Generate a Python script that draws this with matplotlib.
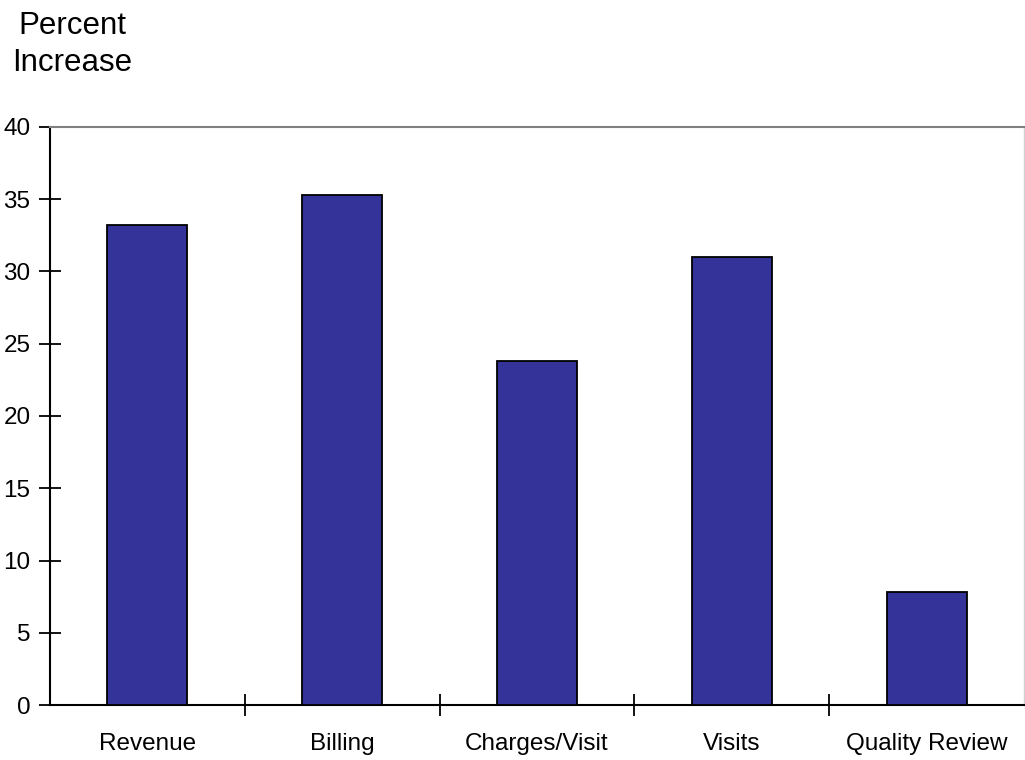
import matplotlib
matplotlib.use("Agg")
import matplotlib.pyplot as plt
import numpy as np

categories = ["Revenue", "Billing", "Charges/Visit", "Visits", "Quality Review"]
values = [33.2, 35.3, 23.8, 31.0, 7.8]
yticks = [0, 5, 10, 15, 20, 25, 30, 35, 40]

plt.rcParams['font.family'] = ['Liberation Sans', 'DejaVu Sans']

fig = plt.figure(figsize=(10.25, 7.6), dpi=100)
ax = fig.add_axes([50/1025, 55/760, 974/1025, 578/760])

x = np.arange(len(categories))
ax.bar(x, values, width=0.41, color="#333399", edgecolor="black", linewidth=1.3, zorder=3)

ax.set_xlim(-0.5, len(categories) - 0.5)
ax.set_ylim(0, 40)
ax.set_yticks(yticks)
ax.set_yticklabels([str(v) for v in yticks], fontsize=17.5)
ax.tick_params(axis='y', direction='inout', length=16, width=1.3, pad=6)

ax.set_xticks(x)
ax.set_xticklabels(categories, fontsize=17.5)
ax.tick_params(axis='x', which='major', length=0, pad=20)
ax.set_xticks(np.arange(0.5, len(categories) - 1, 1.0), minor=True)
ax.tick_params(axis='x', which='minor', direction='inout', length=16, width=1.3)

ax.spines['left'].set_linewidth(1.5)
ax.spines['bottom'].set_linewidth(1.5)
ax.spines['top'].set_color('#808080')
ax.spines['top'].set_linewidth(1.5)
ax.spines['right'].set_color('#d0d0d0')
ax.spines['right'].set_linewidth(1.0)

fig.text(72/1025, 1 - 11/760, "Percent\nIncrease", ha='center', va='top', fontsize=22.5, linespacing=1.3)

fig.savefig("out.png", dpi=100)
